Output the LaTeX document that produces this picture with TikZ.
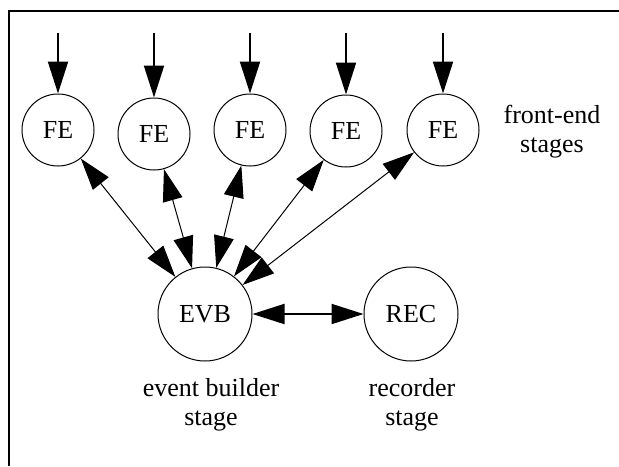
\documentclass[tikz,border=0pt]{standalone}
\usepackage{fontspec}
\setmainfont{Liberation Serif}
\usetikzlibrary{arrows.meta}

\begin{document}
\begin{tikzpicture}[x=0.5pt, y=-0.5pt,
		stage/.style={circle, draw, line width=0.5pt, minimum size=36pt, inner sep=0pt, font=\fontsize{13}{15}\selectfont},
		bigstage/.style={stage, minimum size=47pt},
		stagetext/.style={align=center, font=\fontsize{13}{14.5}\selectfont},
		feed/.style={line width=1pt, -{Triangle[length=16pt, width=10pt]}},
		link/.style={line width=0.5pt, {Triangle[length=16pt, width=10pt]}-{Triangle[length=16pt, width=10pt]}}]
			%%%%% START %%%%%
			
			\useasboundingbox (0, 0) rectangle (619, 466);
			\draw[line width=1pt] (9, 466) -- (9, 11) -- (619, 11);
			
			\node[stage] (fe1) at (58, 130) {FE};
			\node[stage] (fe2) at (154, 134) {FE};
			\node[stage] (fe3) at (250, 130) {FE};
			\node[stage] (fe4) at (346, 131) {FE};
			\node[stage] (fe5) at (443, 130) {FE};
			
			\node[bigstage] (evb) at (205, 314) {EVB};
			\node[bigstage] (rec) at (411, 314) {REC};
			
			\foreach \n/\x in {1/58, 2/154, 3/250, 4/346, 5/443} {
				\coordinate (in\n) at (\x, 33);
				\draw[feed] (in\n) -- (fe\n);
				\draw[link] (fe\n) -- (evb);
			}
			
			\draw[link, line width=1pt] (evb) -- (rec);
			
			\node[stagetext] (fetext) at (552, 132) {front-end\\stages};
			\node[stagetext] (evbtext) at (211, 405) {event builder\\stage};
			\node[stagetext] (rectext) at (412, 405) {recorder\\stage};
			
			%%%%% END %%%%%
		\end{tikzpicture}
\end{document}
